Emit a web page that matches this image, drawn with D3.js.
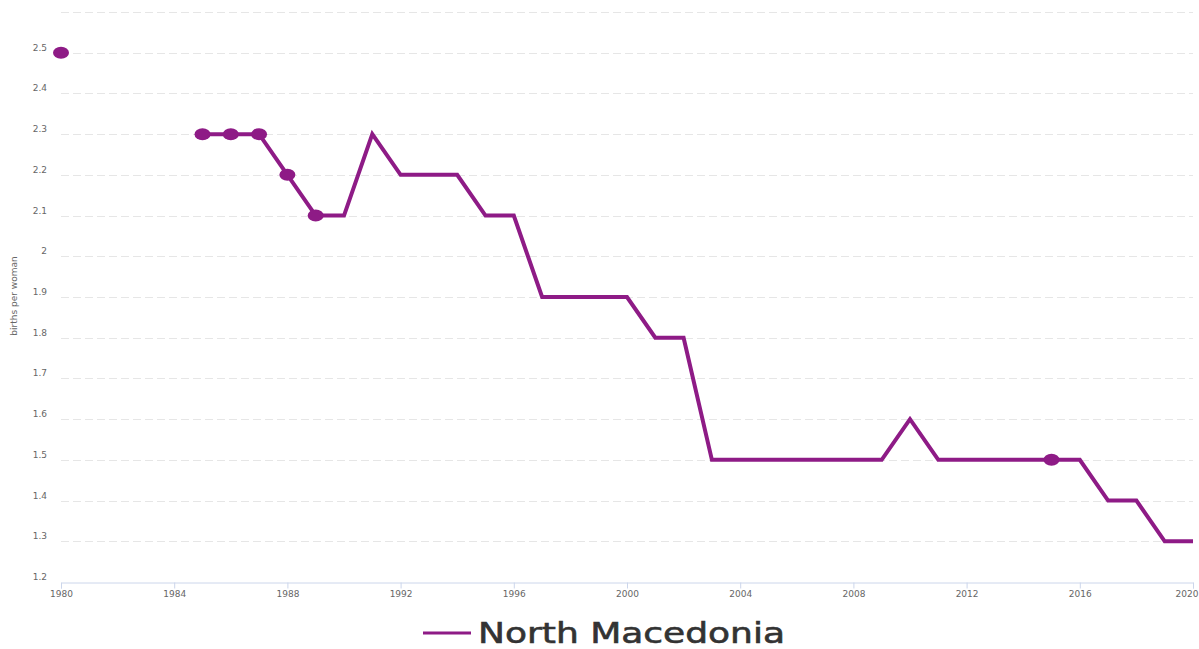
<!DOCTYPE html>
<html>
<head>
<meta charset="utf-8">
<script src="https://cdn.jsdelivr.net/npm/d3@7"></script>
<style>
  html, body { margin: 0; padding: 0; background: #fff; }
  svg { display: block; font-family: "DejaVu Sans", "Open Sans", sans-serif; }
</style>
</head>
<body>
<div id="vis"></div>
<script>
// fertility rate, North Macedonia
const years = [1980, 1981, 1982, 1983, 1984, 1985, 1986, 1987, 1988, 1989,
               1990, 1991, 1992, 1993, 1994, 1995, 1996, 1997, 1998, 1999,
               2000, 2001, 2002, 2003, 2004, 2005, 2006, 2007, 2008, 2009,
               2010, 2011, 2012, 2013, 2014, 2015, 2016, 2017, 2018, 2019, 2020];
const values = [2.5, null, null, null, null, 2.3, 2.3, 2.3, 2.2, 2.1,
                2.1, 2.3, 2.2, 2.2, 2.2, 2.1, 2.1, 1.9, 1.9, 1.9,
                1.9, 1.8, 1.8, 1.5, 1.5, 1.5, 1.5, 1.5, 1.5, 1.5,
                1.6, 1.5, 1.5, 1.5, 1.5, 1.5, 1.5, 1.4, 1.4, 1.3, 1.3];
const markerYears = [1980, 1985, 1986, 1987, 1988, 1989, 2015];
const xTicks = [1980, 1984, 1988, 1992, 1996, 2000, 2004, 2008, 2012, 2016, 2020];
const yTicks = [1.2, 1.3, 1.4, 1.5, 1.6, 1.7, 1.8, 1.9, 2, 2.1, 2.2, 2.3, 2.4, 2.5];
const gridTicks = [1.3, 1.4, 1.5, 1.6, 1.7, 1.8, 1.9, 2, 2.1, 2.2, 2.3, 2.4, 2.5, 2.6];
const seriesName = "North Macedonia";
const yTitle = "births per woman";

const color = "#8e1b86";
const W = 1199, H = 649;
const margin = { top: 12, right: 6, bottom: 67, left: 61 };

const data = years.map((y, i) => ({ year: y, value: values[i] }));

const svg = d3.select("#vis").append("svg")
  .attr("width", W)
  .attr("height", H);

const x = d3.scaleLinear().domain([1980, 2020]).range([margin.left, W - margin.right]);
const y = d3.scaleLinear().domain([1.2, 2.6]).range([H - margin.bottom, margin.top]);

// == grid ==
svg.append("g")
  .selectAll("line")
  .data(gridTicks)
  .enter()
  .append("line")
  .attr("x1", margin.left)
  .attr("x2", W - margin.right)
  .attr("y1", d => Math.round(y(d)) + 0.5)
  .attr("y2", d => Math.round(y(d)) + 0.5)
  .attr("stroke", "#e6e6e6")
  .attr("stroke-width", 1)
  .attr("stroke-dasharray", "8,4");

// y labels
svg.append("g")
  .selectAll("text")
  .data(yTicks)
  .enter()
  .append("text")
  .attr("x", 47)
  .attr("y", d => y(d) - 2)
  .attr("text-anchor", "end")
  .attr("font-size", 9)
  .attr("fill", "#666")
  .text(d => +d.toFixed(1));

svg.append("text")
  .attr("transform", "translate(17," + 296 + ") rotate(-90)")
  .attr("text-anchor", "middle")
  .attr("font-size", 9)
  .attr("fill", "#666")
  .text(yTitle);

// x axis
const xAxis = d3.axisBottom(x)
  .tickValues(xTicks)
  .tickSize(6)
  .tickFormat(d3.format("d"));

const gx = svg.append("g")
  .attr("transform", "translate(0," + (Math.round(y(1.2)) + 0.5) + ")")
  .call(xAxis);
gx.select(".domain").attr("stroke", "#ccd6eb");
gx.selectAll(".tick line").attr("stroke", "#ccd6eb");
gx.selectAll(".tick text")
  .attr("fill", "#666")
  .attr("font-size", 9)
  .attr("font-family", "DejaVu Sans, sans-serif")
  .attr("y", 8)
  .attr("text-anchor", d => d === 2020 ? "end" : "middle")
  .attr("dx", d => d === 2020 ? 5 : 0);

// == series ==
const line = d3.line()
  .defined(d => d.value !== null)
  .x(d => x(d.year))
  .y(d => y(d.value));

svg.append("path")
  .datum(data)
  .attr("d", line)
  .attr("fill", "none")
  .attr("stroke", color)
  .attr("stroke-width", 4)
  .attr("stroke-linejoin", "miter");

svg.append("g")
  .selectAll("ellipse")
  .data(data.filter(d => markerYears.includes(d.year)))
  .enter()
  .append("ellipse")
  .attr("cx", d => x(d.year))
  .attr("cy", d => y(d.value))
  .attr("rx", 8)
  .attr("ry", 6)
  .attr("fill", color);

// == legend ==
svg.append("line")
  .attr("x1", 423).attr("x2", 471)
  .attr("y1", 633).attr("y2", 633)
  .attr("stroke", color)
  .attr("stroke-width", 3);

svg.append("text")
  .attr("x", 478)
  .attr("y", 643)
  .attr("font-size", 28)
  .attr("fill", "#333")
  .attr("stroke", "#333")
  .attr("stroke-width", 0.6)
  .attr("textLength", 307)
  .attr("lengthAdjust", "spacingAndGlyphs")
  .text(seriesName);
</script>
</body>
</html>
